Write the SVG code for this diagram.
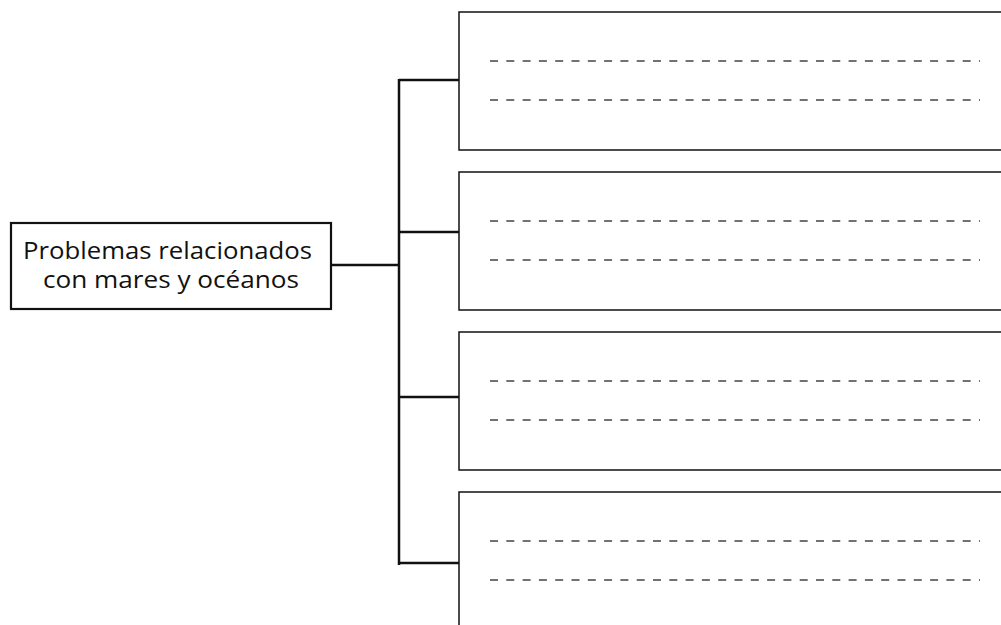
<svg xmlns="http://www.w3.org/2000/svg" width="1001" height="625" viewBox="0 0 1001 625">
<style>
.box{fill:#fff;stroke:#111;stroke-width:1.5}
.main{fill:#fff;stroke:#111;stroke-width:2.2}
.conn{fill:none;stroke:#111;stroke-width:2.5}
.dash{stroke:#444;stroke-width:1.4;stroke-dasharray:8 8.3}
.lbl{font-family:"Open Sans","Liberation Sans",sans-serif;font-size:23px;fill:#111}
</style>
<rect width="1001" height="625" fill="#fff"/>
<g id="connectors">
<path class="conn" d="M331 265H399M399 79V565M399 80H459M399 232H459M399 397H459M399 563H459"/>
</g>
<g id="main-node">
<rect class="main" x="11" y="223" width="320" height="86"/>
<text class="lbl" x="23" y="259" textLength="289" lengthAdjust="spacingAndGlyphs">Problemas relacionados</text>
<text class="lbl" x="43" y="288" textLength="256" lengthAdjust="spacingAndGlyphs">con mares y océanos</text>
</g>
<g id="box1">
<rect class="box" x="459" y="12" width="560" height="138"/>
<line class="dash" x1="490" y1="61" x2="980" y2="61"/>
<line class="dash" x1="490" y1="100" x2="980" y2="100"/>
</g>
<g id="box2">
<rect class="box" x="459" y="172" width="560" height="138"/>
<line class="dash" x1="490" y1="221" x2="980" y2="221"/>
<line class="dash" x1="490" y1="260" x2="980" y2="260"/>
</g>
<g id="box3">
<rect class="box" x="459" y="332" width="560" height="138"/>
<line class="dash" x1="490" y1="381" x2="980" y2="381"/>
<line class="dash" x1="490" y1="420" x2="980" y2="420"/>
</g>
<g id="box4">
<rect class="box" x="459" y="492" width="560" height="160"/>
<line class="dash" x1="490" y1="541" x2="980" y2="541"/>
<line class="dash" x1="490" y1="580" x2="980" y2="580"/>
</g>
</svg>
